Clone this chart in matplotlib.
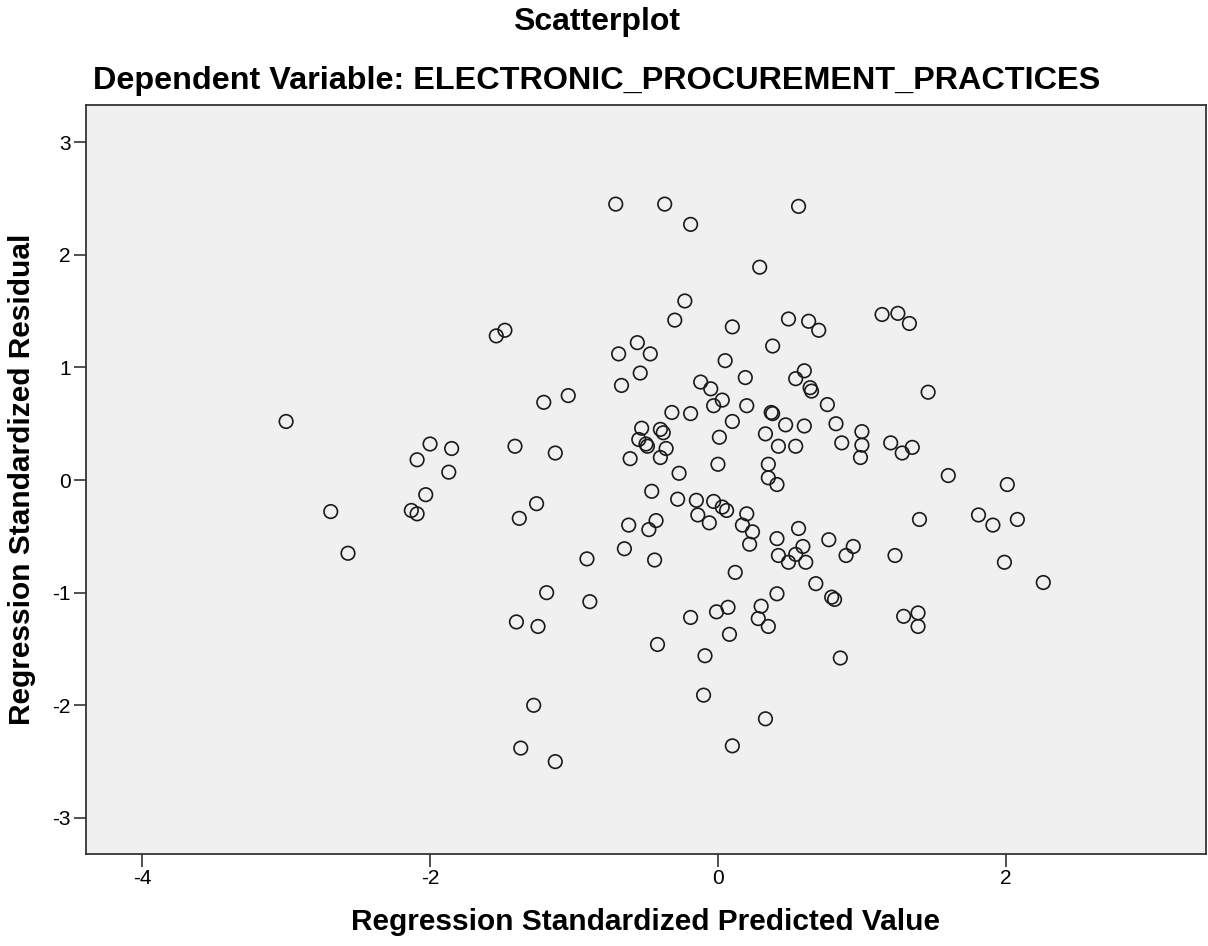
import matplotlib
matplotlib.use("Agg")
import matplotlib.pyplot as plt

plt.rcParams['font.family'] = ['Liberation Sans', 'DejaVu Sans']
plt.rcParams['axes.unicode_minus'] = False

# valores (predito padronizado, resíduo padronizado)
predito = [
    -0.71, -0.37, -0.19, 0.56, 0.29, -0.23, -0.30, 0.10, 0.49, 0.63,
    0.70, 1.14, 1.25, 1.33, -1.54, -1.48, 0.38, -0.56, -0.69, -0.47,
    0.05, -0.54, -0.67, 0.19, -0.12, -0.05, 0.60, 0.54, 0.64, 0.65,
    0.76, 1.46, 0.03, -0.03, 0.20, 0.37, 0.38, -0.32, -0.19, -1.21,
    -1.04, 0.10, 0.47, 0.60, 0.82, 1.00, 1.00, 0.99, 0.86, 1.20,
    1.28, 1.35, -0.53, -0.40, -0.38, -0.55, -0.50, -0.49, -0.36, -0.40,
    0.01, 0.33, 0.42, 0.54, -0.61, -1.41, -1.13, -3.00, -2.00, -1.85,
    -2.09, -1.87, 0.00, 0.35, 0.35, 0.41, -0.27, 1.60, 2.01, -0.46,
    -0.28, -0.15, -0.03, 0.03, 0.06, -1.26, -1.38, -0.14, -0.06, 0.20,
    0.17, 0.24, 0.22, -0.62, -0.43, -0.48, 0.41, 0.42, -0.65, -0.91,
    -0.44, 0.12, 0.41, -1.19, -0.89, -1.40, -1.25, -0.19, -0.01, 0.07,
    0.30, 0.28, 0.35, 0.08, -0.42, -0.09, -0.10, 0.33, -1.28, 0.10,
    -1.37, -1.13, 1.40, 1.81, 1.91, 2.08, 1.99, 2.26, 0.56, 0.59,
    0.54, 0.49, 0.61, 0.77, 0.94, 0.89, 1.23, 0.68, 0.79, 0.81,
    1.29, 1.39, 1.39, 0.85, -2.13, -2.09, -2.69, -2.57, -2.03,
]
residuo = [
    2.45, 2.45, 2.27, 2.43, 1.89, 1.59, 1.42, 1.36, 1.43, 1.41,
    1.33, 1.47, 1.48, 1.39, 1.28, 1.33, 1.19, 1.22, 1.12, 1.12,
    1.06, 0.95, 0.84, 0.91, 0.87, 0.81, 0.97, 0.90, 0.82, 0.79,
    0.67, 0.78, 0.71, 0.66, 0.66, 0.60, 0.59, 0.60, 0.59, 0.69,
    0.75, 0.52, 0.49, 0.48, 0.50, 0.43, 0.31, 0.20, 0.33, 0.33,
    0.24, 0.29, 0.46, 0.45, 0.42, 0.36, 0.32, 0.30, 0.28, 0.20,
    0.38, 0.41, 0.30, 0.30, 0.19, 0.30, 0.24, 0.52, 0.32, 0.28,
    0.18, 0.07, 0.14, 0.14, 0.02, -0.04, 0.06, 0.04, -0.04, -0.10,
    -0.17, -0.18, -0.19, -0.24, -0.27, -0.21, -0.34, -0.31, -0.38, -0.30,
    -0.40, -0.46, -0.57, -0.40, -0.36, -0.44, -0.52, -0.67, -0.61, -0.70,
    -0.71, -0.82, -1.01, -1.00, -1.08, -1.26, -1.30, -1.22, -1.17, -1.13,
    -1.12, -1.23, -1.30, -1.37, -1.46, -1.56, -1.91, -2.12, -2.00, -2.36,
    -2.38, -2.50, -0.35, -0.31, -0.40, -0.35, -0.73, -0.91, -0.43, -0.59,
    -0.66, -0.73, -0.73, -0.53, -0.59, -0.67, -0.67, -0.92, -1.04, -1.06,
    -1.21, -1.18, -1.30, -1.58, -0.27, -0.30, -0.28, -0.65, -0.13,
]
xticks = [-4, -2, 0, 2]
yticks = [-3, -2, -1, 0, 1, 2, 3]

fig = plt.figure(figsize=(12.08, 9.46), dpi=100)
ax = fig.add_axes([0.0712, 0.0973, 0.9271, 0.7917])
ax.set_facecolor('#f0f0f0')

ax.scatter(predito, residuo, s=95, facecolors='none', edgecolors='#1a1a1a', linewidths=1.2)

ax.set_xlim(-4.39, 3.39)
ax.set_ylim(-3.32, 3.33)
ax.set_xticks(xticks)
ax.set_yticks(yticks)
ax.tick_params(axis='both', direction='out', length=9, width=1.2, color='#333333',
               labelsize=15, pad=2)
for s in ax.spines.values():
    s.set_color('#333333')
    s.set_linewidth(1.3)

ax.set_xlabel('Regression Standardized Predicted Value', fontsize=21.5, fontweight='bold', labelpad=14)
ax.set_ylabel('Regression Standardized Residual', fontsize=21.5, fontweight='bold', labelpad=12)

fig.text(0.494, 0.977, 'Scatterplot', ha='center', va='center', fontsize=23, fontweight='bold')
fig.text(0.494, 0.914, 'Dependent Variable: ELECTRONIC_PROCUREMENT_PRACTICES',
         ha='center', va='center', fontsize=23.3, fontweight='bold')

fig.savefig('out.png', dpi=100)
